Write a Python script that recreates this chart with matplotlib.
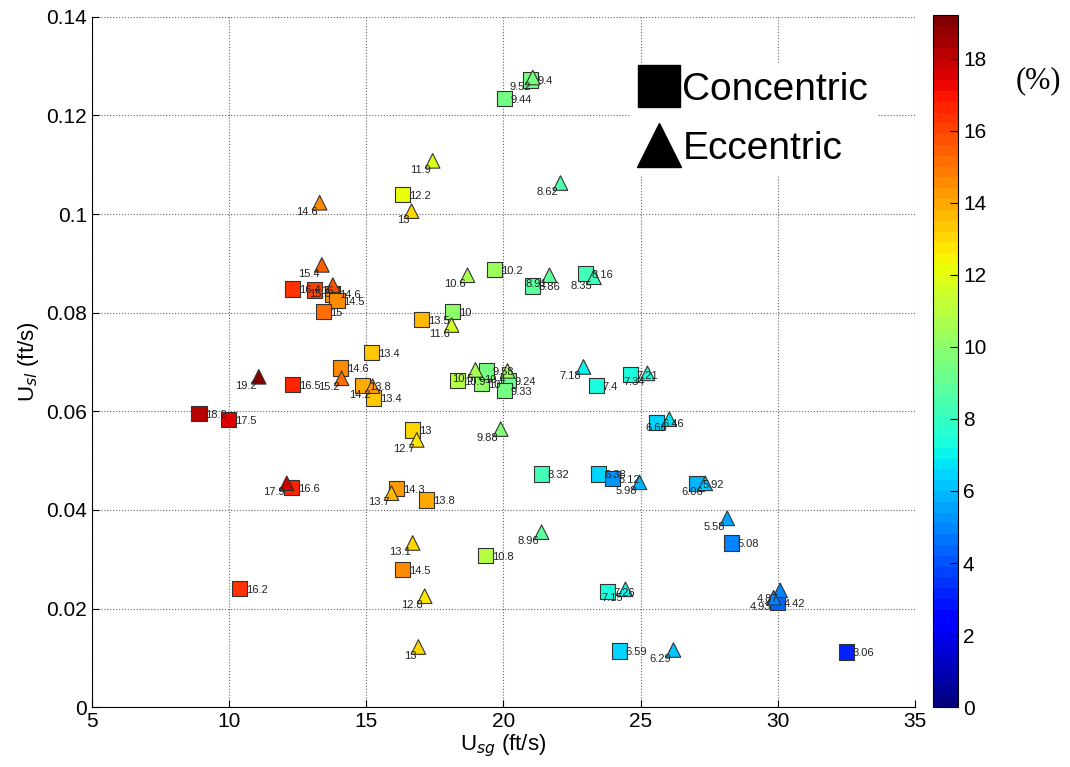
import matplotlib
matplotlib.use("Agg")
import numpy as np
import matplotlib.pyplot as plt
from matplotlib.lines import Line2D

plt.rcParams['font.family'] = ['Liberation Sans', 'DejaVu Sans']

# concentric annulus (squares)
conc_usg = [20.04, 21.00, 16.33, 19.68, 21.06, 23.00, 12.32, 13.12, 13.78, 13.93,
            13.45, 17.02, 18.15, 15.20, 14.07, 12.32, 14.87, 15.27, 8.90, 9.99,
            18.33, 19.20, 19.38, 20.19, 20.04, 23.39, 24.63, 25.58, 16.69, 21.39,
            23.46, 23.97, 12.28, 16.11, 17.20, 27.03, 28.31, 19.35, 16.33, 10.39,
            23.79, 30.00, 24.23, 32.50]
conc_usl = [0.1235, 0.1272, 0.1040, 0.0888, 0.0854, 0.0880, 0.0848, 0.0846, 0.0838, 0.0824,
            0.0803, 0.0787, 0.0803, 0.0720, 0.0688, 0.0655, 0.0653, 0.0627, 0.0596, 0.0584,
            0.0663, 0.0657, 0.0682, 0.0663, 0.0643, 0.0653, 0.0675, 0.0578, 0.0562, 0.0473,
            0.0473, 0.0464, 0.0446, 0.0444, 0.0420, 0.0454, 0.0333, 0.0308, 0.0280, 0.0241,
            0.0235, 0.0212, 0.0114, 0.0112]
conc_val = [9.44, 9.4, 12.2, 10.2, 8.86, 8.16, 16.4, 16.1, 14.6, 14.5,
            15, 13.5, 10, 13.4, 14.6, 16.5, 13.8, 13.4, 18.2, 17.5,
            10.9, 10.0, 9.58, 9.24, 9.33, 7.4, 7.21, 6.46, 13, 8.32,
            6.38, 5.12, 16.6, 14.3, 13.8, 5.92, 5.08, 10.8, 14.5, 16.2,
            7.26, 4.42, 6.59, 3.06]

# eccentric annulus (triangles)
ecc_usg = [21.07, 17.42, 22.08, 13.30, 16.65, 13.38, 18.69, 21.68, 23.30, 13.78,
           18.11, 22.92, 25.25, 11.08, 14.10, 15.23, 18.98, 20.15, 26.05, 19.90,
           16.84, 24.96, 27.36, 12.10, 15.92, 28.16, 21.39, 16.69, 17.13, 24.45,
           30.09, 29.85, 16.90, 26.20]
ecc_usl = [0.1277, 0.1108, 0.1063, 0.1023, 0.1006, 0.0897, 0.0876, 0.0876, 0.0872, 0.0856,
           0.0775, 0.0690, 0.0677, 0.0670, 0.0667, 0.0651, 0.0684, 0.0682, 0.0584, 0.0564,
           0.0542, 0.0456, 0.0454, 0.0454, 0.0434, 0.0383, 0.0355, 0.0333, 0.0225, 0.0239,
           0.0237, 0.0222, 0.0122, 0.0116]
ecc_val = [9.52, 11.9, 8.62, 14.6, 13, 15.4, 10.6, 8.91, 8.35, 15.6,
           11.6, 7.18, 7.34, 19.2, 15.2, 14.2, 10.5, 10.4, 6.66, 9.88,
           12.7, 5.98, 6.06, 17.9, 13.7, 5.58, 8.96, 13.1, 12.8, 7.15,
           4.87, 4.93, 13, 6.29]

cmap = plt.get_cmap('jet', 64)
vmin, vmax = 0, 19.2

fig = plt.figure(figsize=(10.7, 7.67), dpi=100)
ax = fig.add_axes([0.086, 0.078, 0.769, 0.9])
cax = fig.add_axes([0.872, 0.078, 0.0234, 0.902])

ax.grid(True, linestyle=':', color='#666666', linewidth=0.8, zorder=0)
sc = ax.scatter(conc_usg, conc_usl, c=conc_val, cmap=cmap, vmin=vmin, vmax=vmax,
                marker='s', s=120, edgecolors='#333333', linewidths=0.8, zorder=3)
ax.scatter(ecc_usg, ecc_usl, c=ecc_val, cmap=cmap, vmin=vmin, vmax=vmax,
           marker='^', s=110, edgecolors='#333333', linewidths=0.8, zorder=3)

def fmt(v):
    return '{:g}'.format(v)

for x, y, v in zip(conc_usg, conc_usl, conc_val):
    ax.annotate(fmt(v), (x, y), xytext=(4.5, -1), textcoords='offset points',
                ha='left', va='center', fontsize=8, color='#222222', zorder=4)
for x, y, v in zip(ecc_usg, ecc_usl, ecc_val):
    ax.annotate(fmt(v), (x, y), xytext=(-1.5, -6.5), textcoords='offset points',
                ha='right', va='center', fontsize=8, color='#222222', zorder=4)

ax.set_xlim(5, 35)
ax.set_ylim(0, 0.14)
ax.set_xticks(np.arange(5, 36, 5))
ax.set_yticks(np.arange(0, 0.141, 0.02))
ax.set_yticklabels(['0', '0.02', '0.04', '0.06', '0.08', '0.1', '0.12', '0.14'])
ax.tick_params(direction='in', labelsize=15, length=5)
for s in ['top', 'right']:
    ax.spines[s].set_visible(False)
ax.set_xlabel('U$_{sg}$ (ft/s)', fontsize=16, labelpad=1)
ax.set_ylabel('U$_{sl}$ (ft/s)', fontsize=16, labelpad=4)

handles = [Line2D([], [], marker='s', color='black', linestyle='none', markersize=30),
           Line2D([], [], marker='^', color='black', linestyle='none', markersize=32)]
leg = ax.legend(handles, ['Concentric', 'Eccentric'], loc='upper left',
                bbox_to_anchor=(0.63, 0.96), fontsize=28, frameon=True,
                handletextpad=0.05, borderpad=0.2, labelspacing=0.6, handlelength=1.1)
leg.get_frame().set_edgecolor('white')
leg.get_frame().set_facecolor('white')
leg.get_frame().set_alpha(1)
leg.set_zorder(5)

cb = fig.colorbar(sc, cax=cax, ticks=np.arange(0, 19, 2))
cb.ax.tick_params(labelsize=15, direction='in', length=6)
cb.outline.set_linewidth(0.8)
fig.text(0.992, 0.895, '(%)', fontsize=22, family='Liberation Serif', ha='right', va='center')

fig.savefig('out.png', dpi=100)
